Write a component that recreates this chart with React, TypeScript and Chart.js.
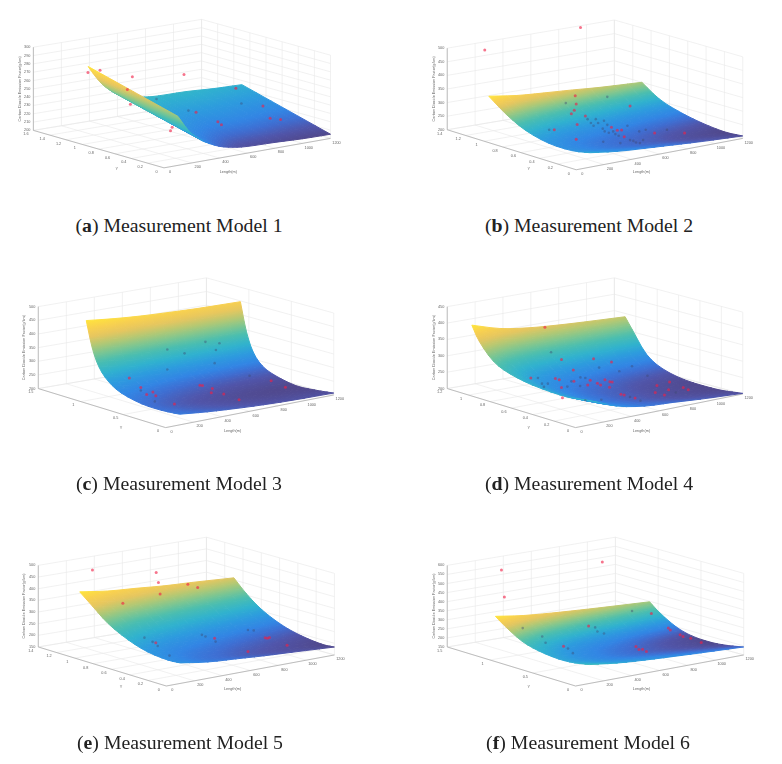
import React, { useEffect, useRef } from "react";
import { Chart, registerables } from "chart.js";

Chart.register(...registerables);

const captionLetters = ["a", "b", "c", "d", "e", "f"];
const captionTexts = ["Measurement Model 1", "Measurement Model 2", "Measurement Model 3", "Measurement Model 4", "Measurement Model 5", "Measurement Model 6"];
const lengthTicks = [0, 200, 400, 600, 800, 1000, 1200];
const lengthAxisTitle = "Length(m)";
const widthAxisTitle = "Y";
const emissionAxisTitle = "Carbon Dioxide Emission Factor(g/km)";

const emissionTicksA = [200, 210, 220, 230, 240, 250, 260, 270, 280, 290, 300];
const emissionTicksB = [200, 250, 300, 350, 400, 450, 500];
const emissionTicksC = [200, 250, 300, 350, 400, 450, 500];
const emissionTicksD = [200, 250, 300, 350, 400, 450];
const emissionTicksE = [150, 200, 250, 300, 350, 400, 450, 500];
const emissionTicksF = [150, 200, 250, 300, 350, 400, 450, 500, 550, 600];

const widthTicksA = [0, 0.2, 0.4, 0.6, 0.8, 1, 1.2, 1.4, 1.6];
const widthTicksB = [0, 0.2, 0.4, 0.6, 0.8, 1, 1.2, 1.4];
const widthTicksC = [0, 0.5, 1, 1.5];
const widthTicksD = [0, 0.2, 0.4, 0.6, 0.8, 1, 1.2];
const widthTicksE = [0, 0.2, 0.4, 0.6, 0.8, 1, 1.2, 1.4];
const widthTicksF = [0, 0.5, 1, 1.5];

const surfaceLengthsA = [100, 150, 200, 250, 300, 400, 500, 600, 800, 1000, 1200];
const surfaceLengths = [100, 300, 500, 700, 900, 1200];

const surfaceWidthsA = [0, 0.55, 1.1];
const surfaceA = [
  [259, 246, 235, 228, 222, 214, 210, 208, 207, 205.5, 205],
  [273.5, 260.5, 249.5, 242, 236, 228.5, 225, 223, 222.5, 221, 220],
  [288, 275, 264, 256, 250, 243, 240, 238.5, 238, 236, 235],
];
const surfaceWidthsB = [0, 0.2, 0.45, 0.7, 0.91, 1.1];
const surfaceB = [
  [253, 239, 231, 224, 217, 209],
  [240, 229, 222, 217, 211, 205],
  [241, 232, 227, 223, 219, 214],
  [262, 252, 247, 242, 237, 232],
  [299, 286, 278, 271, 265, 257],
  [346, 331, 323, 316, 308, 300],
];
const surfaceWidthsC = [0, 0.22, 0.45, 0.69, 0.84, 0.95, 1.03, 1.1];
const surfaceC = [
  [239, 228, 220, 214, 210, 207],
  [233, 221, 213, 206, 202, 199],
  [235, 221, 212, 205, 200, 196],
  [252, 238, 228, 221, 216, 212],
  [280, 264, 252, 244, 239, 234],
  [322, 306, 294, 286, 281, 276],
  [385, 371, 361, 354, 349, 345],
  [478, 467, 459, 454, 450, 447],
];
const surfaceWidthsD = [0, 0.14, 0.29, 0.54, 0.75, 0.9, 1.03, 1.1];
const surfaceD = [
  [274, 240, 223, 217, 210, 202],
  [267, 235, 219, 210, 203, 196],
  [264, 232, 216, 207, 200, 193],
  [269, 236, 219, 211, 203, 196],
  [283, 251, 235, 226, 219, 212],
  [306, 278, 263, 256, 249, 243],
  [353, 331, 320, 315, 310, 305],
  [396, 371, 358, 351, 346, 340],
];
const surfaceWidthsE = [0, 0.14, 0.36, 0.57, 0.79, 0.96, 1.1];
const surfaceE = [
  [238, 220, 211, 202, 195, 184],
  [234, 217, 207, 198, 192, 181],
  [243, 226, 217, 209, 202, 192],
  [269, 251, 241, 232, 225, 214],
  [313, 294, 284, 274, 267, 255],
  [367, 347, 336, 325, 317, 305],
  [412, 395, 386, 376, 370, 359],
];
const surfaceWidthsF = [0, 0.18, 0.37, 0.6, 0.79, 0.98, 1.1];
const surfaceF = [
  [254, 234, 222, 213, 205, 194],
  [238, 218, 206, 197, 189, 178],
  [233, 212, 199, 189, 181, 169],
  [245, 222, 207, 197, 187, 174],
  [270, 247, 233, 222, 213, 200],
  [322, 299, 285, 274, 265, 252],
  [363, 341, 328, 318, 309, 297],
];

// Measurements as read against the Length axis and the left emission axis.
const aboveA = [[-548, 269.6], [-461, 272.3], [-228, 264.6], [144, 267.3], [-264, 249.2], [-242, 231.5], [59, 203.8], [47, 199.6], [231, 221.9], [518, 250.8], [713, 229.2], [388, 210.4], [414, 206.9], [765, 214.6], [840, 213.1]];
const belowA = [[-54, 237.7], [176, 223.8], [558, 232.3]];
const aboveB = [[-659, 493], [31, 576], [-7, 325], [0, 295], [-35, 259], [-14, 272], [66, 251], [-158, 200], [7, 219], [0, 165], [388, 287], [254, 209], [296, 198], [327, 199], [346, 174], [565, 188], [781, 188]];
const belowB = [[-75, 298], [224, 321], [-195, 200], [82, 239], [106, 225], [141, 239], [158, 225], [125, 215], [200, 233], [191, 204], [224, 218], [205, 194], [235, 189], [266, 194], [282, 184], [306, 178], [369, 215], [388, 162], [412, 159], [431, 153], [459, 151], [482, 162], [454, 194], [501, 200], [654, 200], [195, 156], [318, 151]];
const aboveC = [[-259, 239], [-177, 204], [-135, 178], [-91, 187], [-70, 174], [63, 143], [245, 212], [263, 211], [333, 200], [326, 185], [415, 180], [524, 159], [753, 229], [855, 205]];
const belowC = [[12, 343], [135, 329], [284, 371], [384, 366], [359, 341], [350, 293], [12, 270], [599, 247], [-177, 193], [-77, 153]];
const aboveD = [[-220, 387], [-101, 289], [129, 291], [258, 281], [-16, 257], [-321, 232], [-145, 231], [-117, 227], [-101, 203], [-12, 222], [-94, 172], [87, 211], [105, 225], [157, 216], [180, 211], [211, 227], [246, 221], [263, 220], [244, 204], [584, 209], [675, 220], [668, 196], [638, 180], [572, 188], [773, 203], [809, 196], [326, 183], [349, 180], [427, 171]];
const belowD = [[-176, 311], [169, 264], [314, 253], [405, 268], [516, 239], [-270, 232], [-241, 215], [-227, 205], [-199, 215], [-59, 206], [-30, 222], [35, 234], [70, 232], [33, 208], [391, 174], [466, 163], [720, 188], [70, 164], [185, 166]];
const aboveE = [[-527, 480], [-72, 469], [-56, 426], [-310, 337], [154, 419], [224, 405], [-44, 377], [-75, 168], [345, 187], [583, 131], [706, 190], [722, 187], [736, 191], [862, 157]];
const belowE = [[-156, 190], [-98, 172], [-61, 154], [23, 113], [254, 202], [280, 195], [352, 173], [583, 223], [624, 221]];
const aboveF = [[-529, 575], [-508, 425], [191, 618], [541, 335], [93, 265], [-86, 154], [431, 152], [452, 136], [478, 138], [506, 125], [662, 254], [676, 244], [746, 217], [767, 208], [822, 198], [897, 175]];
const belowF = [[-377, 254], [-238, 208], [-214, 173], [-54, 141], [-19, 116], [140, 258], [156, 235], [203, 224], [403, 348]];

// Colour ramp of the surfaces (position, r, g, b).
const ramp = [
  [0, 80, 72, 140], [0.06, 80, 85, 170], [0.12, 62, 110, 210], [0.18, 50, 133, 228], [0.28, 45, 155, 222], [0.38, 48, 178, 206],
  [0.5, 75, 190, 175], [0.6, 125, 198, 145], [0.7, 180, 200, 115], [0.8, 230, 198, 95], [0.9, 248, 208, 80], [1, 255, 228, 60],
];

// Layout; unit = one third of a page pixel, measured inside each panel box.
const SCALE = 3;
const BOX_W = 391;
const BOX_H = 200;
const SHADE_STEPS = 3; // each read cell is shaded in this many smooth facets per side
const panels = [
  { left: 0, top: 0, F: [490, 512], R: [1000, 420], Lf: [90, 395], B: [605, 308], H: 260, eTicks: emissionTicksA, wTicks: widthTicksA, rows: surfaceWidthsA, cols: surfaceLengthsA, grid: surfaceA, above: aboveA, below: belowA, titleX: 50, titleY: 265, lenTitle: [687, 525], wTitle: [345, 517], capX: 179, capY: 225 },
  { left: 391, top: 0, F: [555, 518], R: [1065, 420], Lf: [160, 393], B: [672, 305], H: 255, eTicks: emissionTicksB, wTicks: widthTicksB, rows: surfaceWidthsB, cols: surfaceLengths, grid: surfaceB, above: aboveB, below: belowB, titleX: 118, titleY: 265, lenTitle: [755, 525], wTitle: [410, 517], capX: 589, capY: 225 },
  { left: 0, top: 270, F: [495, 480], R: [1010, 378], Lf: [105, 358], B: [620, 268], H: 256, eTicks: emissionTicksC, wTicks: widthTicksC, rows: surfaceWidthsC, cols: surfaceLengths, grid: surfaceC, above: aboveC, below: belowC, titleX: 62, titleY: 230, lenTitle: [700, 490], wTitle: [358, 482], capX: 179, capY: 483 },
  { left: 391, top: 270, F: [553, 480], R: [1065, 375], Lf: [160, 358], B: [672, 268], H: 256, eTicks: emissionTicksD, wTicks: widthTicksD, rows: surfaceWidthsD, cols: surfaceLengths, grid: surfaceD, above: aboveD, below: belowD, titleX: 118, titleY: 230, lenTitle: [755, 490], wTitle: [410, 482], capX: 589, capY: 483 },
  { left: 0, top: 530, F: [497, 475], R: [1012, 378], Lf: [105, 353], B: [620, 265], H: 255, eTicks: emissionTicksE, wTicks: widthTicksE, rows: surfaceWidthsE, cols: surfaceLengths, grid: surfaceE, above: aboveE, below: belowE, titleX: 62, titleY: 225, lenTitle: [700, 485], wTitle: [358, 478], capX: 180, capY: 742 },
  { left: 391, top: 530, F: [553, 475], R: [1068, 378], Lf: [160, 353], B: [675, 265], H: 255, eTicks: emissionTicksF, wTicks: widthTicksF, rows: surfaceWidthsF, cols: surfaceLengths, grid: surfaceF, above: aboveF, below: belowF, titleX: 118, titleY: 225, lenTitle: [755, 485], wTitle: [410, 478], capX: 588, capY: 742 },
];

function rampColor(t: number) {
  const v = Math.max(0, Math.min(1, t));
  for (let i = 1; i < ramp.length; i++) {
    if (v <= ramp[i][0]) {
      const a = ramp[i - 1];
      const b = ramp[i];
      const f = (v - a[0]) / (b[0] - a[0]);
      return `rgb(${Math.round(a[1] + (b[1] - a[1]) * f)},${Math.round(a[2] + (b[2] - a[2]) * f)},${Math.round(a[3] + (b[3] - a[3]) * f)})`;
    }
  }
  return "rgb(255,228,60)";
}

function makeProjection(p: any) {
  const lenMax = lengthTicks[lengthTicks.length - 1];
  const wMax = p.wTicks[p.wTicks.length - 1];
  const eMin = p.eTicks[0];
  const eMax = p.eTicks[p.eTicks.length - 1];
  const lenOf = (u: number) => ((u - p.F[0]) * lenMax) / (p.R[0] - p.F[0]);
  const emOf = (v: number) => eMin + ((p.Lf[1] - v) * (eMax - eMin)) / p.H;
  const project = (len: number, w: number, e: number) => {
    const l = len / lenMax;
    const n = w / wMax;
    const mix = (k: number) => (1 - l) * (1 - n) * p.F[k] + l * (1 - n) * p.R[k] + (1 - l) * n * p.Lf[k] + l * n * p.B[k];
    return { x: lenOf(mix(0)), y: emOf(mix(1) - ((e - eMin) / (eMax - eMin)) * p.H) };
  };
  return { project, lenOf, emOf, lenMax, wMax, eMin, eMax };
}

// Smooth facets between the read values, used for shading only.
function smooth(a: number[], steps: number) {
  const out: number[] = [];
  for (let i = 0; i < a.length - 1; i++) {
    const p1 = a[i];
    const p2 = a[i + 1];
    const p0 = i > 0 ? a[i - 1] : 2 * p1 - p2;
    const p3 = i < a.length - 2 ? a[i + 2] : 2 * p2 - p1;
    for (let s = 0; s < steps; s++) {
      const t = s / steps;
      out.push(0.5 * (2 * p1 + (p2 - p0) * t + (2 * p0 - 5 * p1 + 4 * p2 - p3) * t * t + (3 * p1 - p0 - 3 * p2 + p3) * t * t * t));
    }
  }
  out.push(a[a.length - 1]);
  return out;
}

function smoothGrid(grid: number[][], steps: number) {
  const across = grid.map((row) => smooth(row, steps));
  const columns = across[0].map((_, c) => smooth(across.map((row) => row[c]), steps));
  return columns[0].map((_, r) => columns.map((col) => col[r]));
}

function quadPaint(chart: any, q: any, zMin: number, zMax: number) {
  const sx = chart.scales.x;
  const sy = chart.scales.y;
  const zc = (q.z[0] + q.z[1] + q.z[2] + q.z[3]) / 4;
  const flat = rampColor((zc - zMin) / (zMax - zMin));
  if (!sx || !sy) return flat;
  const P = q.pts.map((a: any) => [sx.getPixelForValue(a.x), sy.getPixelForValue(a.y)]);
  if (P.flat().some((v: number) => !Number.isFinite(v))) return flat;
  const du = [(P[1][0] - P[0][0] + P[2][0] - P[3][0]) / 2, (P[1][1] - P[0][1] + P[2][1] - P[3][1]) / 2];
  const dv = [(P[3][0] - P[0][0] + P[2][0] - P[1][0]) / 2, (P[3][1] - P[0][1] + P[2][1] - P[1][1]) / 2];
  const dzu = (q.z[1] - q.z[0] + q.z[2] - q.z[3]) / 2;
  const dzv = (q.z[3] - q.z[0] + q.z[2] - q.z[1]) / 2;
  const det = du[0] * dv[1] - du[1] * dv[0];
  if (Math.abs(det) < 0.01) return flat;
  const gx = (dzu * dv[1] - dzv * du[1]) / det;
  const gy = (du[0] * dzv - dv[0] * dzu) / det;
  const g2 = gx * gx + gy * gy;
  const lo = Math.min(...q.z);
  const hi = Math.max(...q.z);
  if (g2 < 1e-9 || hi - lo < 1e-6) return flat;
  const cx = (P[0][0] + P[1][0] + P[2][0] + P[3][0]) / 4;
  const cy = (P[0][1] + P[1][1] + P[2][1] + P[3][1]) / 4;
  const grad = chart.ctx.createLinearGradient(
    cx + ((lo - zc) * gx) / g2, cy + ((lo - zc) * gy) / g2,
    cx + ((hi - zc) * gx) / g2, cy + ((hi - zc) * gy) / g2,
  );
  for (let i = 0; i <= 3; i++) {
    grad.addColorStop(i / 3, rampColor((lo + ((hi - lo) * i) / 3 - zMin) / (zMax - zMin)));
  }
  return grad;
}

function buildDatasets(p: any) {
  const { project, lenMax, wMax, eMin, eMax } = makeProjection(p);
  const gridLines: any[] = [];
  const axisLines: any[] = [];
  const seg = (list: any[], a: any, b: any) => list.push(a, b, { x: a.x, y: null });
  for (const t of lengthTicks) {
    seg(gridLines, project(t, 0, eMin), project(t, wMax, eMin));
    seg(gridLines, project(t, wMax, eMin), project(t, wMax, eMax));
  }
  for (const t of p.wTicks) {
    seg(gridLines, project(0, t, eMin), project(lenMax, t, eMin));
    seg(gridLines, project(lenMax, t, eMin), project(lenMax, t, eMax));
  }
  for (const t of p.eTicks) {
    seg(gridLines, project(0, wMax, t), project(lenMax, wMax, t));
    seg(gridLines, project(lenMax, wMax, t), project(lenMax, 0, t));
  }
  seg(axisLines, project(0, 0, eMin), project(lenMax, 0, eMin));
  seg(axisLines, project(0, 0, eMin), project(0, wMax, eMin));
  seg(axisLines, project(0, wMax, eMin), project(0, wMax, eMax));

  const all = p.grid.flat();
  const zMin = Math.min(...all);
  const zMax = Math.max(...all);
  const rows = smooth(p.rows, SHADE_STEPS);
  const cols = smooth(p.cols, SHADE_STEPS);
  const grid = smoothGrid(p.grid, SHADE_STEPS);
  const sets: any[] = [];
  for (let r = rows.length - 2; r >= 0; r--) {
    for (let c = cols.length - 2; c >= 0; c--) {
      const z = [grid[r][c], grid[r][c + 1], grid[r + 1][c + 1], grid[r + 1][c]];
      const pts = [
        project(cols[c], rows[r], z[0]),
        project(cols[c + 1], rows[r], z[1]),
        project(cols[c + 1], rows[r + 1], z[2]),
        project(cols[c], rows[r + 1], z[3]),
      ];
      const q = { pts, z };
      const paint = (ctx: any) => quadPaint(ctx.chart, q, zMin, zMax);
      sets.push({
        data: [...pts, pts[0]],
        showLine: true,
        fill: "shape",
        backgroundColor: paint,
        borderColor: paint,
        borderWidth: 1,
        pointRadius: 0,
        _depth: cols[c] / lenMax + rows[r] / wMax,
      });
    }
  }
  // Far cells must be painted first: a higher order is painted earlier.
  sets.sort((a, b) => b._depth - a._depth);
  const n = sets.length;
  sets.forEach((s, i) => (s.order = 10 + (n - i)));
  sets.push({ data: gridLines, showLine: true, borderColor: "#e8e8e8", borderWidth: 0.6, pointRadius: 0, spanGaps: false, order: 5000 });
  sets.push({ data: axisLines, showLine: true, borderColor: "#a6a6a6", borderWidth: 0.7, pointRadius: 0, spanGaps: false, order: 4999 });
  const toPts = (a: number[][]) => a.map(([x, y]) => ({ x, y }));
  sets.push({ data: toPts(p.below), pointRadius: 1.3, pointBackgroundColor: "rgba(60,70,110,0.4)", pointBorderWidth: 0, showLine: false, order: 2 });
  sets.push({ data: toPts(p.above), pointRadius: 1.5, pointBackgroundColor: "rgba(240,30,70,0.62)", pointBorderWidth: 0, showLine: false, order: 1 });
  return sets;
}

function axisTextPlugin(p: any) {
  const { project, lenOf, emOf, wMax, eMin } = makeProjection(p);
  return {
    id: "axisText",
    afterDatasetsDraw(chart: any) {
      const { ctx, scales } = chart;
      const at = (a: any) => [scales.x.getPixelForValue(a.x), scales.y.getPixelForValue(a.y)];
      ctx.save();
      ctx.fillStyle = "#666";
      ctx.font = "3.8px 'Liberation Sans'";
      ctx.textBaseline = "middle";
      ctx.textAlign = "right";
      for (const t of p.eTicks) {
        const [x, y] = at(project(0, wMax, t));
        ctx.fillText(String(t), x - 3, y);
      }
      ctx.textAlign = "center";
      for (const t of p.wTicks) {
        const [x, y] = at(project(0, t, eMin));
        ctx.fillText(String(t), x - 7.5, y + 3.8);
      }
      for (const t of lengthTicks) {
        const [x, y] = at(project(t, 0, eMin));
        ctx.fillText(String(t), x + 6, y + 4.2);
      }
      const [lx, ly] = at({ x: lenOf(p.lenTitle[0]), y: emOf(p.lenTitle[1]) });
      ctx.fillText(lengthAxisTitle, lx, ly);
      const [wx, wy] = at({ x: lenOf(p.wTitle[0]), y: emOf(p.wTitle[1]) });
      ctx.fillText(widthAxisTitle, wx, wy);
      const [tx, ty] = at({ x: lenOf(p.titleX), y: emOf(p.titleY) });
      ctx.translate(tx, ty);
      ctx.rotate(-Math.PI / 2);
      ctx.fillText(emissionAxisTitle, 0, 0);
      ctx.restore();
    },
  };
}

function Panel({ p }: { p: any }) {
  const ref = useRef<HTMLCanvasElement | null>(null);
  useEffect(() => {
    const { lenOf, emOf } = makeProjection(p);
    const chart = new Chart(ref.current as HTMLCanvasElement, {
      type: "scatter",
      data: { datasets: buildDatasets(p) },
      options: {
        animation: false,
        responsive: false,
        events: [],
        layout: { padding: 0 },
        elements: { line: { tension: 0 } },
        plugins: { legend: { display: false }, tooltip: { enabled: false } },
        scales: {
          x: { type: "linear", display: false, min: lenOf(0), max: lenOf(BOX_W * SCALE) },
          y: { type: "linear", display: false, min: emOf(BOX_H * SCALE), max: emOf(0) },
        },
      },
      plugins: [axisTextPlugin(p)],
    } as any);
    return () => chart.destroy();
  }, [p]);
  return (
    <canvas
      ref={ref}
      width={BOX_W}
      height={BOX_H}
      style={{ position: "absolute", left: p.left, top: p.top, width: BOX_W, height: BOX_H, filter: "blur(0.5px)" }}
    />
  );
}

export default function App() {
  return (
    <div style={{ position: "absolute", left: 0, top: 0, width: 782, height: 764, background: "#fff", overflow: "hidden" }}>
      {panels.map((p, i) => (
        <React.Fragment key={i}>
          <Panel p={p} />
          <div
            style={{
              position: "absolute",
              left: p.capX - 130,
              width: 260,
              top: p.capY - 12,
              height: 24,
              lineHeight: "24px",
              textAlign: "center",
              fontFamily: "'Liberation Serif', serif",
              fontSize: 19.8,
              color: "#222",
              whiteSpace: "nowrap",
            }}
          >
            (<b>{captionLetters[i]}</b>) {captionTexts[i]}
          </div>
        </React.Fragment>
      ))}
    </div>
  );
}
